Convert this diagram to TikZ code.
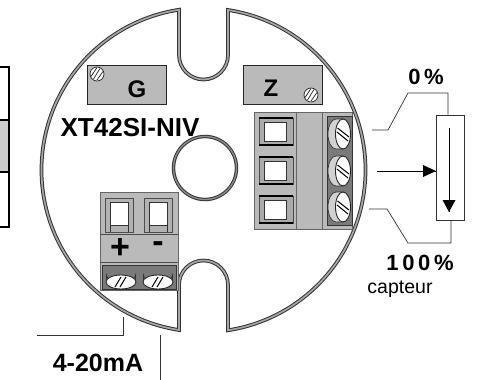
\documentclass[tikz,border=0pt]{standalone}
\usepackage{fontspec}
\setmainfont{Liberation Sans}
\begin{document}
\begin{tikzpicture}[x=1pt,y=-1pt,line join=miter,
  ring/.style={draw=black!80,line width=1pt,double=black!35,double distance=1.7pt},
  plate/.style={draw=black!85,fill=black!27,line width=0.9pt},
  blockbody/.style={draw=black!60,fill=black!27,line width=0.7pt},
  darkbg/.style={draw=black!80,fill=black!52,line width=0.8pt},
  wire/.style={draw=black!80,line width=0.7pt},
  lab/.style={font=\bfseries,inner sep=0pt,text=black}]
\useasboundingbox (0,0) rectangle (491,380);
% left table
\fill[black!20] (0,120) rectangle (9,172);
\draw[line width=1.8pt] (0,67) -- (9,67) -- (9,227) -- (0,227);
\draw[line width=1.2pt] (0,120) -- (9,120) (0,172) -- (9,172);
% ring
\draw[ring] (179,10) -- (179,55) arc[start angle=180,end angle=0,radius=24.5] -- (228,10)
  arc[start angle=-81.3,end angle=81.3,radius=162] -- (228,285)
  arc[start angle=0,end angle=-180,radius=24.5] -- (179,330)
  arc[start angle=98.7,end angle=261.3,radius=162] -- cycle;
% centre hole
\draw[black!80,line width=1pt,double=black!45,double distance=1.4pt] (205,168) circle[radius=31.5];
% plates
\node[plate,minimum width=79pt,minimum height=39pt,inner sep=0pt] (g) at (126.5,84.5) {};
\node[lab,font=\bfseries\fontsize{24}{24}\selectfont] (gt) at (137,89) {G};
\node[plate,minimum width=79pt,minimum height=39pt,inner sep=0pt] (z) at (282.5,84.5) {};
\node[lab,font=\bfseries\fontsize{24}{24}\selectfont] (zt) at (271,88) {Z};
\foreach \p/\a in {97/74,311/95}{
  \draw[black!85,fill=white,line width=0.7pt] (\p,\a) circle[radius=7];
  \draw[black!85,line width=0.7pt] (\p-3.5,\a+5) -- (\p+3,\a-5.5) (\p-6,\a+2.5) -- (\p,\a-6.5) (\p,\a+6) -- (\p+6,\a-2.5);
}
\node[lab,font=\bfseries\fontsize{26}{26}\selectfont] (name) at (130,128) {XT42SI-NIV};
% right block
\draw[blockbody] (254,112) rectangle (352,229);
\draw[blockbody] (296,112) rectangle (322,229);
\draw[darkbg] (327,116) rectangle (352,225);
\foreach \y in {118,157,196}{
  \draw[black!70,fill=black!33,line width=0.6pt] (259,\y) rectangle (293,\y+27);
  \draw[black,line width=1.6pt] (259,\y) -- (293,\y) (259,\y+27) -- (293,\y+27);
  \draw[black!80,fill=white,line width=0.7pt] (264,\y+4) rectangle (286,\y+23);
}
\foreach \y in {134,171,207}{
  \begin{scope}[shift={(343,\y)}]
    \draw[black!80,fill=black!18,line width=0.7pt] (0,-15) -- (-7,-15) arc[start angle=-90,end angle=-270,x radius=8,y radius=15] -- (0,15) -- cycle;
    \draw[black!85,fill=white,line width=0.9pt] (0,0) ellipse[x radius=7.5,y radius=15];
    \draw[black,line width=1pt] (-5.5,-6) -- (6,3) (-6,-2) -- (5,7);
  \end{scope}
}
% lower block
\draw[blockbody] (100,192) rectangle (178,290);
\draw[black!70,line width=0.7pt] (100,234) -- (178,234) (100,262) -- (178,262);
\draw[darkbg] (102,265) rectangle (176,289);
\foreach \x in {105,144}{
  \draw[black!70,fill=black!30,line width=0.8pt] (\x,198) rectangle (\x+28,232);
  \draw[black!80,fill=white,line width=0.7pt] (\x+5,202) rectangle (\x+23,225);
  \draw[black!80,line width=0.6pt] (\x+5,225) -- (\x+5,232) (\x+23,225) -- (\x+23,232);
}
\foreach \x in {121,158}{
  \begin{scope}[shift={(\x,282)}]
    \draw[black!80,fill=black!18,line width=0.7pt] (-14.5,0) -- (-14.5,-7) arc[start angle=180,end angle=0,x radius=14.5,y radius=8] -- (14.5,0) -- cycle;
    \draw[black!85,fill=white,line width=0.9pt] (0,0) ellipse[x radius=15,y radius=7];
    \draw[black,line width=1pt] (-6,5) -- (0,-5) (-1,5) -- (5,-5);
  \end{scope}
}
\node[lab,font=\bfseries\fontsize{34}{34}\selectfont] (plus) at (120,249) {+};
\node[lab,font=\bfseries\fontsize{34}{34}\selectfont] (minus) at (158,247) {-};
% bottom wires
\coordinate (a1) at (37,335);
\coordinate (a2) at (123,335);
\coordinate (a3) at (123,317);
\draw[wire] (a1) -- (a2) -- (a3);
\coordinate (b1) at (160,335);
\coordinate (b2) at (160,380);
\draw[wire] (b1) -- (b2);
\node[lab,font=\bfseries\fontsize{25}{25}\selectfont] (ma) at (98,363) {4-20mA};
% potentiometer
\node[draw=black!80,line width=0.7pt,minimum width=28pt,minimum height=105pt,inner sep=0pt] (pot) at (450,167.5) {};
\coordinate (c1) at (372,130);
\coordinate (c2) at (388,130);
\coordinate (c3) at (408,93);
\coordinate (c4) at (448,93);
\draw[wire] (c1) -- (c2) -- (c3) -- (c4) -- (c4 |- pot.north);
\coordinate (d1) at (369,209);
\coordinate (d2) at (387,209);
\coordinate (d3) at (408,243);
\coordinate (d4) at (451,243);
\draw[wire] (d1) -- (d2) -- (d3) -- (d4) -- (d4 |- pot.south);
\coordinate (e1) at (377,171);
\coordinate (e2) at (436,171);
\draw[line width=0.7pt] (e1) -- (e2);
\fill (e2) -- ++(-13,-6) -- ++(0,12) -- cycle;
\coordinate (f1) at (449,128);
\coordinate (f2) at (449,212);
\draw[line width=0.7pt] (f1) -- (f2);
\fill (f2) -- ++(-6.5,-12) -- ++(13,0) -- cycle;
\node[lab,font=\bfseries\fontsize{22}{22}\selectfont] (p0) at (426,77) {0\,\%};
\node[lab,font=\bfseries\fontsize{22}{22}\selectfont] (p100) at (420,263) {1\,0\,0\,\%};
\node[inner sep=0pt,font=\fontsize{19.5}{19.5}\selectfont] (capt) at (400,289) {capteur};
\end{tikzpicture}
\end{document}
